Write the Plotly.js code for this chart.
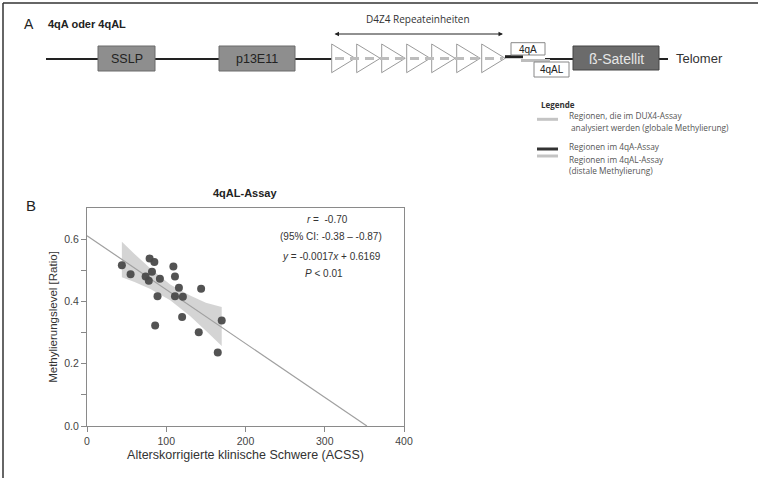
<!DOCTYPE html>
<html>
<head>
<meta charset="utf-8">
<script src="https://cdn.plot.ly/plotly-3.0.1.min.js"></script>
<style>html,body{margin:0;padding:0;background:#fff;}#chart{width:758px;height:478px;}</style>
</head>
<body>
<div id="chart"></div>
<script>
// ---- Panel B data ----
const acss = [44, 55, 79, 85, 82, 74, 78, 92, 89, 86, 109, 111, 116, 111, 121, 120, 144, 141, 165, 170];
const methylation = [0.516, 0.487, 0.538, 0.527, 0.495, 0.480, 0.466, 0.473, 0.417, 0.323, 0.512, 0.480, 0.444, 0.417, 0.415, 0.350, 0.441, 0.301, 0.236, 0.339];
const bandX = [44, 60, 80, 105, 130, 150, 170];
const bandUpper = [0.592, 0.552, 0.506, 0.454, 0.419, 0.396, 0.382];
const bandLower = [0.478, 0.462, 0.440, 0.404, 0.353, 0.306, 0.257];
const fitSlope = -0.00173;
const fitIntercept = 0.611;
const yTickVals = [0, 0.1, 0.2, 0.3, 0.4, 0.5, 0.6];
const yTickText = ['0.0', '', '0.2', '', '0.4', '', '0.6'];
const xTickVals = [0, 100, 200, 300, 400];
const xTickText = ['0', '100', '200', '300', '400'];
const statsLines = ['<i>r</i> =  -0.70', '(95% CI: -0.38 – -0.87)', '<i>y</i> = -0.0017<i>x</i> + 0.6169', '<i>P</i> < 0.01'];
const repeatCount = 7;

const W = 758, H = 478;
const px = x => x / W;
const py = y => 1 - y / H;

const fitX = [0, -fitIntercept / fitSlope];
const fitY = fitX.map(x => fitIntercept + fitSlope * x);

const traces = [
  {
    x: bandX.concat(bandX.slice().reverse()),
    y: bandUpper.concat(bandLower.slice().reverse()),
    type: 'scatter', mode: 'lines', fill: 'toself',
    fillcolor: 'rgba(205,205,205,0.85)', line: {width: 0}, hoverinfo: 'skip', showlegend: false
  },
  {
    x: fitX, y: fitY, type: 'scatter', mode: 'lines',
    line: {color: '#a0a0a0', width: 1.2}, showlegend: false
  },
  {
    x: acss, y: methylation, type: 'scatter', mode: 'markers',
    marker: {color: '#4a4a4a', size: 8, opacity: 0.95}, showlegend: false
  }
];

// ---- Panel A diagram (decoration) ----
const shapes = [];
function line(x0, y0, x1, y1, color, width, dash) {
  shapes.push({type: 'line', xref: 'paper', yref: 'paper', x0: px(x0), y0: py(y0), x1: px(x1), y1: py(y1),
    line: {color: color, width: width, dash: dash || 'solid'}});
}
function rect(x0, y0, x1, y1, fill, lc) {
  shapes.push({type: 'rect', xref: 'paper', yref: 'paper', x0: px(x0), y0: py(y0), x1: px(x1), y1: py(y1),
    fillcolor: fill, line: {color: lc, width: 1}});
}
// frame
line(3, 3, 3, 478, '#333', 1.5);
line(3, 3, 758, 3, '#333', 1.5);
// backbone
line(46, 59, 98, 59, '#222', 2);
line(155, 59, 219, 59, '#222', 2);
line(295, 59, 333, 59, '#222', 2);
line(545, 59, 573, 59, '#222', 2);
line(659, 59, 668, 59, '#222', 2);
rect(98, 46, 155, 71, '#8e8e8e', '#6a6a6a');
rect(219, 46, 295, 71, '#8e8e8e', '#6a6a6a');
// repeats
for (let k = 0; k < repeatCount; k++) {
  const x = 331.7 + 25 * k;
  shapes.push({type: 'path', xref: 'paper', yref: 'paper',
    path: `M ${px(x)},${py(44)} L ${px(x + 23.5)},${py(58.3)} L ${px(x)},${py(72.7)} Z`,
    fillcolor: 'white', line: {color: '#9a9a9a', width: 1}});
}
line(335, 58.5, 503, 58.5, '#bdbdbd', 3, '9px,6px');
// 4qA / 4qAL regions
line(505, 56.7, 523, 56.7, '#222', 3);
line(521, 60.5, 550, 60.5, '#bdbdbd', 3);
rect(511, 42.7, 545, 55, 'white', '#888');
rect(534, 62, 569, 77, 'white', '#888');
rect(573, 46, 659, 70, '#6b6b6b', '#444');
// legend lines
line(537, 119.3, 558, 119.3, '#c4c4c4', 3);
line(537, 149, 558, 149, '#333', 3);
line(537, 156, 558, 156, '#c4c4c4', 3);

const fA = 'Open Sans, Liberation Sans, Arial, sans-serif';
const fB = 'Liberation Sans, Arial, sans-serif';
function txt(x, y, text, size, color, anchor, family, extra) {
  return Object.assign({xref: 'paper', yref: 'paper', x: px(x), y: py(y), text: text, showarrow: false,
    xanchor: anchor || 'left', yanchor: 'middle', font: {family: family || fA, size: size, color: color}}, extra || {});
}
const annotations = [
  txt(22, 24, 'A', 14, '#222', 'left', fB),
  txt(46, 24, '<b>4qA oder 4qAL</b>', 11, '#222', 'left', fB),
  txt(418, 19, 'D4Z4 Repeateinheiten', 10, '#333', 'center'),
  {xref: 'paper', yref: 'paper', x: px(503), y: py(34), ax: -170, ay: 0, text: '', showarrow: true,
    arrowhead: 2, arrowside: 'end+start', arrowsize: 0.9, arrowwidth: 1, arrowcolor: '#222', standoff: 0, startstandoff: 0},
  txt(126.5, 58.5, 'SSLP', 12.5, '#222', 'center', fB),
  txt(257, 58.5, 'p13E11', 12.5, '#222', 'center', fB),
  txt(528, 49, '4qA', 10, '#222', 'center', fB),
  txt(551.5, 69.5, '4qAL', 10, '#222', 'center', fB),
  txt(616, 58.5, 'ß-Satellit', 14, '#e6e6e6', 'center', fB),
  txt(674, 58.5, 'Telomer', 13, '#333', 'left', fB),
  txt(539, 104, '<b>Legende</b>', 8, '#333', 'left'),
  txt(567, 116, 'Regionen, die im DUX4-Assay', 8.3, '#555', 'left'),
  txt(569, 127, 'analysiert werden (globale Methylierung)', 8.3, '#555', 'left'),
  txt(567, 146.5, 'Regionen im 4qA-Assay', 8.3, '#555', 'left'),
  txt(567, 159, 'Regionen im 4qAL-Assay', 8.3, '#555', 'left'),
  txt(567, 171, '(distale Methylierung)', 8.3, '#555', 'left'),
  // panel B
  txt(24, 205, 'B', 15, '#222', 'left', fB),
  txt(245, 193, '<b>4qAL-Assay</b>', 11, '#222', 'center', fB),
  txt(327, 219, statsLines[0], 10, '#333', 'center', fB),
  txt(331, 236.5, statsLines[1], 10, '#333', 'center', fB),
  txt(331, 256.5, statsLines[2], 10, '#333', 'center', fB),
  txt(324, 273, statsLines[3], 10, '#333', 'center', fB)
];

const layout = {
  width: W, height: H,
  margin: {l: 0, r: 0, t: 0, b: 0},
  paper_bgcolor: 'white', plot_bgcolor: 'white',
  showlegend: false,
  font: {family: fB, color: '#444'},
  xaxis: {
    domain: [px(87), px(404)], range: [0, 400],
    tickvals: xTickVals, ticktext: xTickText,
    ticks: 'outside', ticklen: 5, tickcolor: '#888', tickwidth: 1,
    showline: true, linecolor: '#8a8a8a', linewidth: 1, mirror: true,
    showgrid: false, zeroline: false,
    tickfont: {size: 10.5, color: '#444', family: fB},
    title: {text: 'Alterskorrigierte klinische Schwere (ACSS)', font: {size: 12.5, color: '#333', family: fB}, standoff: 4}
  },
  yaxis: {
    domain: [py(426), py(208)], range: [0, 0.7],
    tickvals: yTickVals, ticktext: yTickText,
    ticks: 'outside', ticklen: 5, tickcolor: '#888', tickwidth: 1,
    showline: true, linecolor: '#8a8a8a', linewidth: 1, mirror: true,
    showgrid: false, zeroline: false,
    tickfont: {size: 10.5, color: '#444', family: fB},
    title: {text: 'Methylierungslevel [Ratio]', font: {size: 11.5, color: '#333', family: fB}, standoff: 4}
  },
  shapes: shapes,
  annotations: annotations
};

Plotly.newPlot('chart', traces, layout, {displayModeBar: false, staticPlot: true});
</script>
</body>
</html>
